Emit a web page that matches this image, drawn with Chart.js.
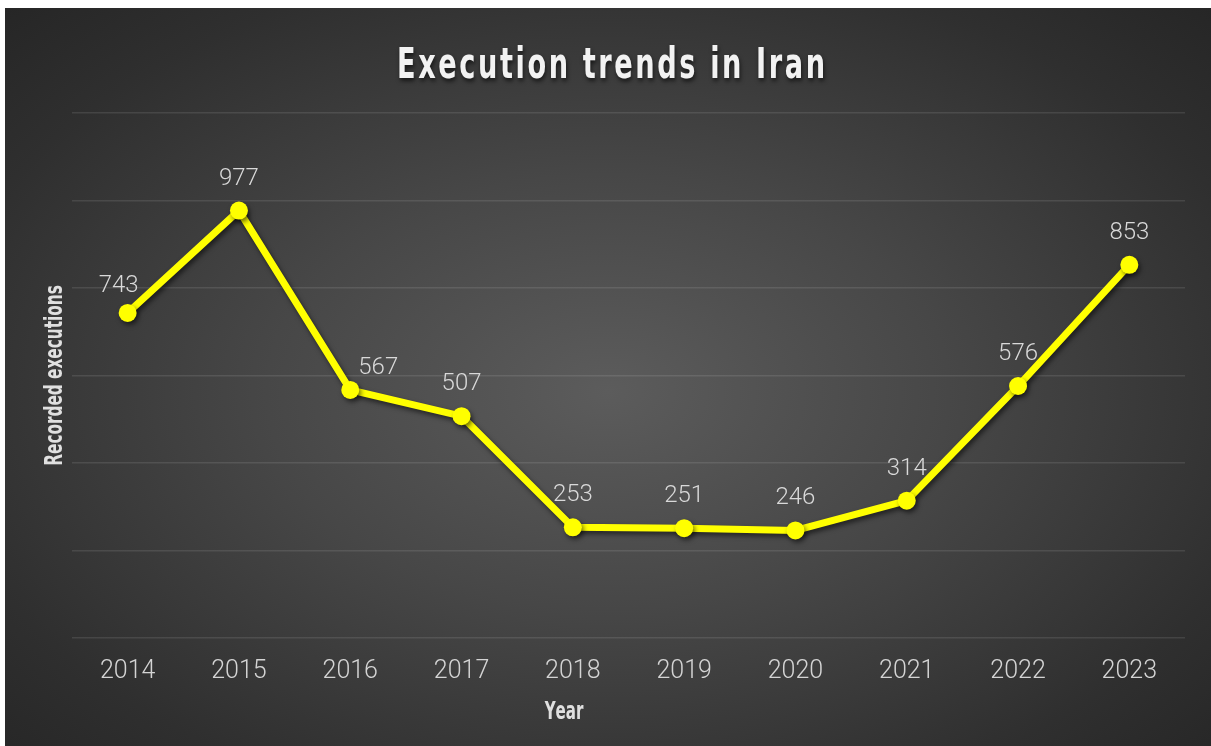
<!DOCTYPE html>
<html>
<head>
<meta charset="utf-8">
<script src="https://cdn.jsdelivr.net/npm/chart.js@4.4.1/dist/chart.umd.min.js"></script>
<style>
  html, body { margin: 0; padding: 0; background: #fff; }
  #frame {
    position: absolute; left: 5px; top: 8px; width: 1206px; height: 738px;
    background: radial-gradient(ellipse farthest-corner at 50% 52%, #5c5c5c 0%, #474747 40%, #2f2f2f 80%, #262626 100%);
  }
</style>
</head>
<body>
<div id="frame"><canvas id="chart"></canvas></div>
<script>
  // dados
  const years = ['2014', '2015', '2016', '2017', '2018', '2019', '2020', '2021', '2022', '2023'];
  const executions = [743, 977, 567, 507, 253, 251, 246, 314, 576, 853];
  const yTicks = [0, 200, 400, 600, 800, 1000, 1200];

  const titleText = 'Execution trends in Iran';
  const yTitle = 'Recorded executions';
  const xTitle = 'Year';
  const narrowFont = '"Liberation Sans Narrow", "DejaVu Sans Condensed", sans-serif';

  // deslocamento dos rótulos em relação ao ponto
  const labelOffsets = { 0: [-9, -27], 2: [28, -22] };

  function drawCondensed(ctx, text, cx, cy, size, sx, targetWidth) {
    ctx.font = `bold ${size}px ${narrowFont}`;
    const chars = [...text];
    const widths = chars.map(c => ctx.measureText(c).width * sx);
    const total = widths.reduce((a, b) => a + b, 0);
    const gap = targetWidth ? (targetWidth - total) / (chars.length - 1) : 0;
    const full = targetWidth || total;
    let x = cx - full / 2;
    ctx.textBaseline = 'middle';
    ctx.textAlign = 'left';
    chars.forEach((c, i) => {
      ctx.save();
      ctx.translate(x, cy);
      ctx.scale(sx, 1);
      ctx.fillText(c, 0, 0);
      ctx.restore();
      x += widths[i] + gap;
    });
  }

  const decorPlugin = {
    id: 'decor',
    beforeDatasetDraw(chart) {
      const ctx = chart.ctx;
      ctx.save();
      ctx.shadowColor = 'rgba(0,0,0,0.55)';
      ctx.shadowBlur = 5;
      ctx.shadowOffsetX = 2;
      ctx.shadowOffsetY = 3;
    },
    afterDatasetDraw(chart) {
      chart.ctx.restore();
    },
    afterDraw(chart) {
      const ctx = chart.ctx;
      const area = chart.chartArea;

      // título
      ctx.save();
      ctx.fillStyle = '#f2f2f2';
      ctx.shadowColor = 'rgba(0,0,0,0.6)';
      ctx.shadowBlur = 4;
      ctx.shadowOffsetX = 1;
      ctx.shadowOffsetY = 3;
      drawCondensed(ctx, titleText, 606, 59, 42, 0.72, 428);
      ctx.restore();

      // títulos dos eixos
      ctx.save();
      ctx.fillStyle = '#e0e0e0';
      drawCondensed(ctx, xTitle, 559, 704, 25, 0.67);
      ctx.translate(50, (area.top + area.bottom) / 2);
      ctx.rotate(-Math.PI / 2);
      drawCondensed(ctx, yTitle, 0, 0, 25, 0.68);
      ctx.restore();

      // rótulos de dados
      const meta = chart.getDatasetMeta(0);
      ctx.save();
      ctx.fillStyle = '#d9d9d9';
      ctx.font = '300 24px Roboto, "Noto Sans", sans-serif';
      ctx.textAlign = 'center';
      ctx.textBaseline = 'middle';
      meta.data.forEach((pt, i) => {
        const [dx, dy] = labelOffsets[i] || [0, -32];
        ctx.fillText(String(executions[i]), pt.x + dx, pt.y + dy);
      });
      ctx.restore();
    }
  };

  new Chart(document.getElementById('chart'), {
    type: 'line',
    data: {
      labels: years,
      datasets: [{
        data: executions,
        borderColor: '#ffff00',
        backgroundColor: '#ffff00',
        borderWidth: 7,
        pointRadius: 9,
        pointBorderWidth: 0,
        pointBackgroundColor: '#ffff00',
        tension: 0,
        fill: false
      }]
    },
    options: {
      responsive: true,
      maintainAspectRatio: false,
      animation: false,
      layout: { padding: { top: 105, right: 26, left: 0, bottom: 0 } },
      plugins: {
        legend: { display: false },
        tooltip: { enabled: false }
      },
      scales: {
        x: {
          offset: true,
          grid: { display: false },
          border: { display: false },
          ticks: {
            color: '#d4d4d4',
            padding: 11,
            font: { family: 'Roboto, "Noto Sans", sans-serif', size: 25, weight: 300 }
          },
          afterFit(scale) { scale.height = 108; }
        },
        y: {
          min: 0,
          max: 1200,
          afterBuildTicks(scale) { scale.ticks = yTicks.map(v => ({ value: v })); },
          grid: { color: 'rgba(255,255,255,0.1)', lineWidth: 1.5, drawTicks: false },
          border: { display: false },
          ticks: { display: false },
          afterFit(scale) { scale.width = 67; }
        }
      }
    },
    plugins: [decorPlugin]
  });
</script>
</body>
</html>
